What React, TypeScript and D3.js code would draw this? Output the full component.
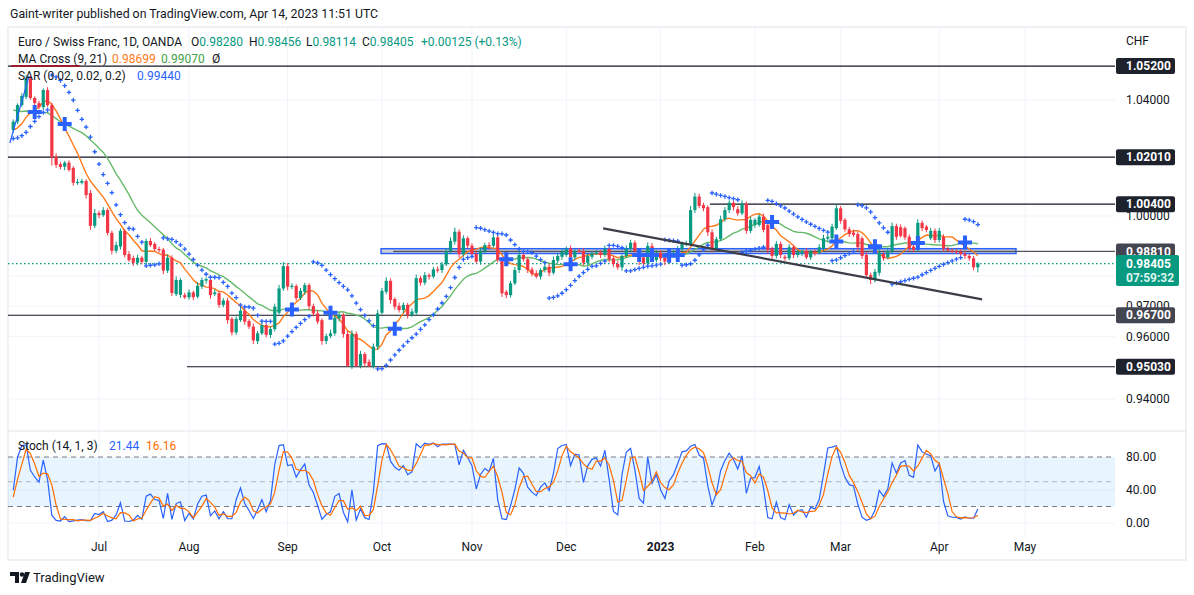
import React from "react";
import * as d3 from "d3";

// EUR/CHF daily, OANDA. Bars before the visible window only feed the indicators.
const warmupCloses = [
  1.0445, 1.0462, 1.0438, 1.0451, 1.042, 1.0402, 1.0431, 1.0415, 1.039, 1.0412,
  1.0396, 1.0348, 1.0312, 1.0285, 1.0268, 1.0279, 1.0301, 1.0264, 1.0289, 1.033,
];

// first visible bar is 20 bars before 1 Jul 2022
const FIRST_BAR = -20;

const opens = [
  1.0295, 1.0324, 1.0382, 1.0411, 1.0476, 1.0407, 1.0389, 1.0375, 1.0435, 1.0382,
  1.0202, 1.0177, 1.0168, 1.0182, 1.0164, 1.0114, 1.0113, 1.0119, 1.0078, 0.9967,
  1.001, 1.0003, 1.002, 0.9943, 0.9883, 0.9897, 0.995, 0.9872, 0.9859, 0.9843,
  0.986, 0.9846, 0.9916, 0.9906, 0.9889, 0.9887, 0.9817, 0.986, 0.9739, 0.9737,
  0.9736, 0.9729, 0.9745, 0.9731, 0.9764, 0.9784, 0.9786, 0.9739, 0.9742, 0.9704,
  0.9718, 0.9658, 0.9614, 0.9654, 0.9685, 0.9651, 0.9633, 0.9586, 0.9611, 0.9638,
  0.9606, 0.9625, 0.9678, 0.9758, 0.9832, 0.9766, 0.9766, 0.9726, 0.9747, 0.9769,
  0.97, 0.9676, 0.9654, 0.9586, 0.9602, 0.9611, 0.966, 0.9671, 0.9609, 0.9506,
  0.9609, 0.9506, 0.9544, 0.9519, 0.9505, 0.9568, 0.9678, 0.9747, 0.9783, 0.9723,
  0.9701, 0.9687, 0.9704, 0.9671, 0.9678, 0.9792, 0.9777, 0.9802, 0.9797, 0.9821,
  0.9819, 0.9838, 0.9882, 0.9914, 0.9947, 0.9872, 0.9925, 0.99, 0.9872, 0.9847,
  0.9882, 0.9902, 0.99, 0.9928, 0.9852, 0.9747, 0.9736, 0.9775, 0.9819, 0.9869,
  0.9855, 0.9821, 0.9808, 0.9797, 0.9819, 0.983, 0.981, 0.985, 0.9863, 0.9869,
  0.9891, 0.9861, 0.9883, 0.9882, 0.9843, 0.9863, 0.9875, 0.9877, 0.9869, 0.9889,
  0.9858, 0.9839, 0.9828, 0.9866, 0.9889, 0.991, 0.9886, 0.9861, 0.9841, 0.9899,
  0.9852, 0.9875, 0.9861, 0.9847, 0.9869, 0.9875, 0.9889, 0.9906, 0.9906, 1.002,
  1.0066, 1.0037, 1.003, 0.9945, 0.9891, 0.9922, 0.9989, 1.002, 1.0045, 1.0023,
  1.0009, 1.0041, 0.995, 0.997, 0.997, 0.9998, 0.997, 0.9891, 0.9866, 0.9906,
  0.9863, 0.9858, 0.9895, 0.9869, 0.9875, 0.9882, 0.9861, 0.988, 0.9877, 0.9891,
  0.9924, 0.9925, 0.9959, 1.0026, 0.9987, 0.9955, 0.9944, 0.9939, 0.9925, 0.9869,
  0.9802, 0.9786, 0.981, 0.9872, 0.9861, 0.9882, 0.9966, 0.9962, 0.9959, 0.993,
  0.9897, 0.9886, 0.9977, 0.9964, 0.9925, 0.995, 0.9919, 0.993, 0.989, 0.9884,
  0.9882, 0.988, 0.9872, 0.9866, 0.9858, 0.9828,
];

const closes = [
  1.0324, 1.0382, 1.0414, 1.0476, 1.0407, 1.0389, 1.0375, 1.0435, 1.0382, 1.0202,
  1.0174, 1.0167, 1.0182, 1.0157, 1.0113, 1.0116, 1.0119, 1.0071, 0.9967, 1.001,
  1.0003, 1.002, 0.9943, 0.9883, 0.9902, 0.995, 0.9869, 0.9852, 0.9843, 0.986,
  0.9846, 0.9916, 0.9902, 0.9889, 0.9887, 0.9817, 0.986, 0.9743, 0.9786, 0.9786,
  0.9729, 0.9745, 0.9729, 0.9767, 0.9786, 0.9789, 0.9736, 0.9745, 0.9704, 0.9718,
  0.9654, 0.9614, 0.9658, 0.9685, 0.9649, 0.9633, 0.9588, 0.9611, 0.9638, 0.9606,
  0.9625, 0.9698, 0.9758, 0.9832, 0.9764, 0.9767, 0.9726, 0.975, 0.9769, 0.97,
  0.9676, 0.9649, 0.9586, 0.9602, 0.9611, 0.9662, 0.9671, 0.9609, 0.9506, 0.9609,
  0.9506, 0.9544, 0.9514, 0.9505, 0.9568, 0.9676, 0.975, 0.9783, 0.972, 0.9698,
  0.9687, 0.9704, 0.9671, 0.9682, 0.9792, 0.9777, 0.9802, 0.9797, 0.9821, 0.9818,
  0.9838, 0.9882, 0.9916, 0.9947, 0.9872, 0.9925, 0.99, 0.9872, 0.9847, 0.9882,
  0.9902, 0.9897, 0.9928, 0.9852, 0.9742, 0.9736, 0.9775, 0.9819, 0.9869, 0.9855,
  0.9819, 0.9806, 0.9797, 0.9819, 0.983, 0.981, 0.9852, 0.9866, 0.988, 0.9889,
  0.9861, 0.9882, 0.9881, 0.9843, 0.9866, 0.9875, 0.9877, 0.9869, 0.9889, 0.9855,
  0.9839, 0.9828, 0.9866, 0.9889, 0.991, 0.9883, 0.9847, 0.9841, 0.9899, 0.9866,
  0.9877, 0.9858, 0.9847, 0.9869, 0.9877, 0.9891, 0.9908, 0.9909, 1.002, 1.0066,
  1.0034, 1.0026, 0.9945, 0.9888, 0.9922, 0.9989, 1.002, 1.0045, 1.003, 1.0009,
  1.0041, 0.995, 0.9987, 0.9987, 0.9998, 0.9953, 0.9886, 0.9866, 0.9906, 0.9869,
  0.9858, 0.9895, 0.9869, 0.988, 0.9882, 0.9861, 0.988, 0.9877, 0.9895, 0.9925,
  0.993, 0.9964, 1.0026, 0.9984, 0.9955, 0.9939, 0.9936, 0.9895, 0.9866, 0.9802,
  0.9786, 0.9813, 0.9877, 0.9858, 0.9882, 0.9966, 0.993, 0.9933, 0.9928, 0.9891,
  0.9886, 0.9977, 0.9959, 0.9953, 0.995, 0.9919, 0.995, 0.989, 0.9884, 0.9882,
  0.988, 0.9872, 0.9866, 0.9858, 0.9828, 0.98405,
];

// wick lengths above the body top / below the body bottom, in pips
const upperWicks = [
  8, 6, 10, 12, 10, 6, 8, 6, 10, 8, 12, 8, 6, 8, 6, 10, 8, 6, 10, 14,
  8, 10, 6, 8, 12, 8, 6, 10, 8, 10, 6, 8, 10, 6, 8, 6, 10, 8, 12, 6,
  8, 10, 6, 12, 8, 6, 8, 10, 6, 8, 10, 6, 8, 12, 8, 6, 10, 8, 12, 6,
  8, 10, 12, 14, 10, 8, 6, 10, 8, 6, 8, 10, 6, 8, 12, 10, 8, 6, 10, 12,
  8, 10, 6, 8, 10, 12, 10, 12, 8, 6, 10, 8, 6, 10, 12, 8, 10, 6, 8, 10,
  8, 10, 12, 14, 8, 10, 6, 8, 10, 12, 8, 10, 12, 8, 10, 6, 8, 10, 12, 8,
  6, 8, 10, 6, 8, 10, 12, 8, 10, 8, 10, 6, 8, 10, 8, 6, 10, 8, 12, 6,
  8, 10, 6, 12, 10, 8, 6, 8, 12, 10, 8, 10, 6, 8, 10, 8, 6, 8, 14, 12,
  10, 8, 6, 10, 8, 12, 10, 8, 6, 10, 12, 8, 10, 6, 8, 10, 8, 6, 10, 8,
  6, 10, 8, 6, 8, 10, 6, 8, 10, 12, 8, 10, 12, 8, 6, 8, 10, 8, 6, 10,
  8, 10, 12, 6, 8, 12, 8, 10, 6, 8, 10, 12, 8, 6, 10, 8, 10, 8, 6, 8,
  6, 8, 10, 6, 8, 5,
];
const lowerWicks = [
  10, 8, 6, 8, 6, 10, 8, 10, 6, 30, 10, 8, 12, 6, 10, 8, 6, 12, 14, 8,
  10, 6, 8, 12, 8, 10, 8, 6, 10, 8, 8, 10, 6, 8, 10, 12, 8, 10, 6, 10,
  6, 8, 10, 6, 8, 10, 12, 6, 10, 8, 12, 10, 8, 6, 10, 8, 12, 10, 6, 8,
  10, 8, 6, 8, 12, 10, 8, 6, 10, 12, 10, 8, 12, 10, 6, 8, 10, 12, 4, 10,
  4, 8, 10, 3, 8, 10, 6, 8, 12, 10, 8, 10, 12, 6, 8, 10, 8, 10, 6, 8,
  10, 6, 8, 10, 12, 8, 10, 8, 6, 10, 8, 10, 6, 8, 12, 10, 8, 6, 10, 8,
  10, 8, 6, 10, 8, 12, 6, 8, 10, 6, 8, 10, 6, 8, 10, 8, 6, 10, 8, 10,
  10, 8, 12, 6, 8, 10, 12, 8, 6, 10, 8, 10, 12, 8, 6, 8, 10, 8, 6, 10,
  8, 10, 12, 10, 8, 6, 8, 10, 12, 8, 6, 10, 8, 10, 6, 8, 12, 10, 8, 10,
  8, 6, 10, 8, 10, 6, 8, 10, 6, 8, 10, 8, 6, 10, 8, 10, 6, 12, 10, 8,
  14, 8, 10, 8, 6, 8, 10, 6, 8, 10, 8, 6, 10, 8, 6, 10, 8, 10, 6, 8,
  8, 6, 10, 8, 10, 17,
];

// bar index (weekdays from 1 Jul 2022) of each month label
const monthLabels = ["Jul", "Aug", "Sep", "Oct", "Nov", "Dec", "2023", "Feb", "Mar", "Apr", "May"];
const monthBars = [0, 21, 44, 66, 87, 109, 131, 153, 173, 196, 216];

const priceTicks = [1.04, 1.02, 1.0, 0.98, 0.97, 0.96, 0.94];
const stochGrid = [0, 40];
const stochLabels = [80, 40, 0];

// horizontal drawings: price, first bar
const levelPrices = [1.052, 1.0201, 1.004, 0.9881, 0.967, 0.9503];
const levelStartBars = [-30, -30, 142.5, 68.6, -30, 20.5];

const zoneBars = [65.8, 213.9];
const zonePrices = [0.9874, 0.989];
const trendBars = [117.6, 206];
const trendPrices = [0.99585, 0.97222];
const blueLineBars = [-20.8, -16.3];
const blueLinePrices = [1.025, 1.0485];
const redMarkBars = [-20.5, -4.4];

const lastPrice = 0.98405;
const countdown = "07:59:32";

const W = 1194;
const H = 595;
const L = 8;
const R = 1115;
const MAIN_TOP = 27;
const MAIN_BOTTOM = 431;
const STOCH_BOTTOM = 538;
const FONT = "Roboto, 'Noto Sans', sans-serif";
const PIP = 0.0001;

const sma = (values: number[], n: number) =>
  values.map((_, i) => d3.mean(values.slice(Math.max(0, i - n + 1), i + 1))!);

const parabolicSar = (hi: number[], lo: number[], start = 0.02, inc = 0.02, max = 0.2) => {
  const out: number[] = hi.map(() => NaN);
  let up = true;
  let sar = lo[0];
  let ep = hi[0];
  let af = start;
  for (let i = 1; i < hi.length; i++) {
    let next = sar + af * (ep - sar);
    if (up) {
      next = Math.min(next, lo[i - 1], lo[Math.max(0, i - 2)]);
      if (lo[i] < next) {
        up = false;
        next = ep;
        ep = lo[i];
        af = start;
      } else if (hi[i] > ep) {
        ep = hi[i];
        af = Math.min(af + inc, max);
      }
    } else {
      next = Math.max(next, hi[i - 1], hi[Math.max(0, i - 2)]);
      if (hi[i] > next) {
        up = true;
        next = ep;
        ep = hi[i];
        af = start;
      } else if (lo[i] < ep) {
        ep = lo[i];
        af = Math.min(af + inc, max);
      }
    }
    sar = next;
    out[i] = sar;
  }
  return out;
};

const Plus: React.FC<{ x: number; y: number; r: number; w: number }> = ({ x, y, r, w }) => (
  <path d={`M${x - r},${y}H${x + r}M${x},${y - r}V${y + r}`} stroke="#2962ff" strokeWidth={w} />
);

const App: React.FC = () => {
  const x = d3.scaleLinear().domain([0, 216]).range([99, 1025]);
  const y = d3.scaleLog().domain([1.04, 0.94]).range([100, 399]);
  const ys = d3.scaleLinear().domain([0, 80]).range([523, 457]);

  const nWarm = warmupCloses.length;
  const allOpen = [...warmupCloses, ...opens];
  const allClose = [...warmupCloses, ...closes];
  const allUp = [...warmupCloses.map(() => 0), ...upperWicks];
  const allDown = [...warmupCloses.map(() => 0), ...lowerWicks];
  const allHigh = allOpen.map((o, i) => Math.max(o, allClose[i]) + allUp[i] * PIP);
  const allLow = allOpen.map((o, i) => Math.min(o, allClose[i]) - allDown[i] * PIP);
  const barOf = (g: number) => g - nWarm + FIRST_BAR;

  const ma9 = sma(allClose, 9);
  const ma21 = sma(allClose, 21);
  const sar = parabolicSar(allHigh, allLow);

  const kRaw = allClose.map((c, i) => {
    const from = Math.max(0, i - 13);
    const hh = d3.max(allHigh.slice(from, i + 1))!;
    const ll = d3.min(allLow.slice(from, i + 1))!;
    return hh === ll ? 50 : (100 * (c - ll)) / (hh - ll);
  });
  const dLine = sma(kRaw, 3);

  const visible = d3.range(nWarm, allClose.length);
  const crosses = visible.filter(
    (g) => Math.sign(ma9[g] - ma21[g]) !== Math.sign(ma9[g - 1] - ma21[g - 1]),
  );

  const maLine = (vals: number[]) =>
    d3
      .line<number>()
      .x((g) => x(barOf(g)))
      .y((g) => y(vals[g]))(visible)!;
  const stLine = (vals: number[]) =>
    d3
      .line<number>()
      .x((g) => x(barOf(g)))
      .y((g) => ys(vals[g]))(visible)!;

  const fmt = d3.format(".5f");
  const greyLevels = [0.9881, 0.967];

  // tick labels that sit fully under a price box are not drawn (as on the original)
  const lastY = y(lastPrice);
  const tickShown = (p: number) =>
    levelPrices.every((l) => Math.abs(y(l) - y(p)) > 8) &&
    !(y(p) > lastY - 9 && y(p) < lastY + 23);

  return (
    <div style={{ position: "absolute", left: 0, top: 0 }}>
      <svg width={W} height={H} style={{ display: "block", background: "#fff" }} fontFamily={FONT}>
        <defs>
          <clipPath id="mainClip">
            <rect x={L} y={MAIN_TOP} width={R - L} height={MAIN_BOTTOM - MAIN_TOP} />
          </clipPath>
          <clipPath id="stochClip">
            <rect x={L} y={MAIN_BOTTOM} width={R - L} height={STOCH_BOTTOM - MAIN_BOTTOM} />
          </clipPath>
        </defs>

        <text x={10} y={18} fontSize={12.3} fill="#131722">
          Gaint-writer published on TradingView.com, Apr 14, 2023 11:51 UTC
        </text>

        {/* frame */}
        <rect x={L} y={MAIN_TOP} width={1186 - L} height={560 - MAIN_TOP} fill="none" stroke="#e0e3eb" />
        <line x1={L} x2={1186} y1={MAIN_BOTTOM} y2={MAIN_BOTTOM} stroke="#e0e3eb" />

        {/* grid */}
        {monthBars.map((b) => (
          <line key={b} x1={x(b)} x2={x(b)} y1={MAIN_TOP} y2={STOCH_BOTTOM} stroke="#f0f3fa" />
        ))}
        {priceTicks.map((p) => (
          <line key={p} x1={L} x2={R} y1={y(p)} y2={y(p)} stroke="#f0f3fa" />
        ))}
        {stochGrid.map((v) => (
          <line key={v} x1={L} x2={R} y1={ys(v)} y2={ys(v)} stroke="#f0f3fa" />
        ))}

        <g clipPath="url(#mainClip)">
          {/* zone */}
          <rect
            x={x(zoneBars[0])}
            y={y(zonePrices[1])}
            width={x(zoneBars[1]) - x(zoneBars[0])}
            height={y(zonePrices[0]) - y(zonePrices[1])}
            fill="rgba(120,123,134,0.35)"
            stroke="#2962ff"
            strokeWidth={1.5}
          />
          {/* horizontal levels */}
          {levelPrices.map((p, i) => (
            <line
              key={p}
              x1={x(levelStartBars[i])}
              x2={R}
              y1={y(p)}
              y2={y(p)}
              stroke={p === 0.9881 ? "#50535e" : "#131722"}
              strokeWidth={1.2}
            />
          ))}
          <line
            x1={x(redMarkBars[0])}
            x2={x(redMarkBars[1])}
            y1={y(levelPrices[0])}
            y2={y(levelPrices[0])}
            stroke="#9c1c2b"
            strokeWidth={2}
          />
          <line
            x1={L}
            x2={R}
            y1={lastY}
            y2={lastY}
            stroke="#089981"
            strokeWidth={1.2}
            strokeDasharray="1.5 2.5"
          />

          {/* moving averages */}
          <path d={maLine(ma21)} fill="none" stroke="#66bb6a" strokeWidth={1.4} />
          <path d={maLine(ma9)} fill="none" stroke="#ff7a1a" strokeWidth={1.4} />

          {/* candles */}
          {visible.map((g) => {
            const o = allOpen[g];
            const c = allClose[g];
            const cx = x(barOf(g));
            const top = y(Math.max(o, c));
            const h = Math.max(1.2, y(Math.min(o, c)) - top);
            const col = c >= o ? "#089981" : "#f23645";
            return (
              <g key={g} fill={col} stroke={col}>
                <line x1={cx} x2={cx} y1={y(allHigh[g])} y2={y(allLow[g])} strokeWidth={1} />
                <rect x={cx - 1.6} y={top} width={3.2} height={h} stroke="none" />
              </g>
            );
          })}

          {/* parabolic SAR */}
          {visible.map((g) => (
            <Plus key={g} x={x(barOf(g))} y={y(sar[g])} r={2.2} w={1.3} />
          ))}

          {/* MA cross markers */}
          {crosses.map((g) => (
            <Plus key={g} x={x(barOf(g))} y={y(ma21[g])} r={7} w={4} />
          ))}

          {/* drawings */}
          <line
            x1={x(trendBars[0])}
            x2={x(trendBars[1])}
            y1={y(trendPrices[0])}
            y2={y(trendPrices[1])}
            stroke="#3b3e48"
            strokeWidth={2.2}
          />
          <line
            x1={x(blueLineBars[0])}
            x2={x(blueLineBars[1])}
            y1={y(blueLinePrices[0])}
            y2={y(blueLinePrices[1])}
            stroke="#2962ff"
            strokeWidth={1.2}
          />
        </g>

        {/* legend */}
        <text y={46} fontSize={12} fill="#131722">
          <tspan x={18}>Euro / Swiss Franc, 1D, OANDA</tspan>
          <tspan x={191}>O</tspan>
          <tspan fill="#089981">0.98280</tspan>
          <tspan x={249}>H</tspan>
          <tspan fill="#089981">0.98456</tspan>
          <tspan x={306}>L</tspan>
          <tspan fill="#089981">0.98114</tspan>
          <tspan x={362}>C</tspan>
          <tspan fill="#089981">0.98405</tspan>
          <tspan x={421} fill="#089981">+0.00125 (+0.13%)</tspan>
        </text>
        <text y={63} fontSize={12} fill="#131722">
          <tspan x={18}>MA Cross (9, 21)</tspan>
          <tspan x={112} fill="#ff7a1a">0.98699</tspan>
          <tspan x={161} fill="#43a047">0.99070</tspan>
          <tspan x={212} fill="#131722">Ø</tspan>
        </text>
        <text y={80} fontSize={12} fill="#131722">
          <tspan x={18}>SAR (0.02, 0.02, 0.2)</tspan>
          <tspan x={137} fill="#2962ff">0.99440</tspan>
        </text>

        {/* price axis */}
        <text x={1126} y={45} fontSize={12} fill="#131722">
          CHF
        </text>
        {priceTicks.filter(tickShown).map((p) => (
          <text key={p} x={1126} y={y(p) + 4} fontSize={12} fill="#131722">
            {fmt(p)}
          </text>
        ))}
        {levelPrices.map((p) => (
          <g key={p}>
            <rect
              x={1116}
              y={y(p) - 8}
              width={59}
              height={16}
              rx={2}
              fill={greyLevels.includes(p) ? "#434651" : "#1e222d"}
            />
            <text x={1126} y={y(p) + 4.2} fontSize={12} fontWeight="bold" fill="#fff">
              {fmt(p)}
            </text>
          </g>
        ))}
        <rect x={1116} y={lastY - 8.5} width={63} height={31} rx={2} fill="#089981" />
        <text x={1126} y={lastY + 4} fontSize={12} fontWeight="bold" fill="#fff">
          {fmt(lastPrice)}
        </text>
        <text x={1126} y={lastY + 18.5} fontSize={12} fontWeight="bold" fill="#dff5ef">
          {countdown}
        </text>

        {/* stochastic */}
        <rect x={L} y={ys(80)} width={R - L} height={ys(20) - ys(80)} fill="rgba(33,150,243,0.1)" />
        {[80, 20].map((v) => (
          <line key={v} x1={L} x2={R} y1={ys(v)} y2={ys(v)} stroke="#787b86" strokeDasharray="5 4" />
        ))}
        <line x1={L} x2={R} y1={ys(50)} y2={ys(50)} stroke="rgba(120,123,134,0.5)" strokeDasharray="5 4" />
        <g clipPath="url(#stochClip)">
          <path d={stLine(kRaw)} fill="none" stroke="#2962ff" strokeWidth={1.2} />
          <path d={stLine(dLine)} fill="none" stroke="#ff6d00" strokeWidth={1.2} />
        </g>
        <text y={450} fontSize={12} fill="#131722">
          <tspan x={18}>Stoch (14, 1, 3)</tspan>
          <tspan x={109} fill="#2962ff">21.44</tspan>
          <tspan x={146} fill="#ff6d00">16.16</tspan>
        </text>
        {stochLabels.map((v) => (
          <text key={v} x={1126} y={ys(v) + 4} fontSize={12} fill="#131722">
            {v.toFixed(2)}
          </text>
        ))}

        {/* time axis */}
        {monthLabels.map((m, i) => (
          <text
            key={m}
            x={x(monthBars[i])}
            y={551}
            fontSize={12}
            textAnchor="middle"
            fill="#131722"
            fontWeight={m === "2023" ? "bold" : "normal"}
          >
            {m}
          </text>
        ))}

        {/* logo */}
        <g fill="#131722">
          <path d="M10,572H19V583H15V576H10Z" />
          <circle cx={22} cy={574.5} r={2.2} />
          <path d="M25,572H30L26,583H21Z" />
        </g>
        <text x={33} y={582} fontSize={13} fill="#131722">
          TradingView
        </text>
      </svg>
    </div>
  );
};

export default App;
